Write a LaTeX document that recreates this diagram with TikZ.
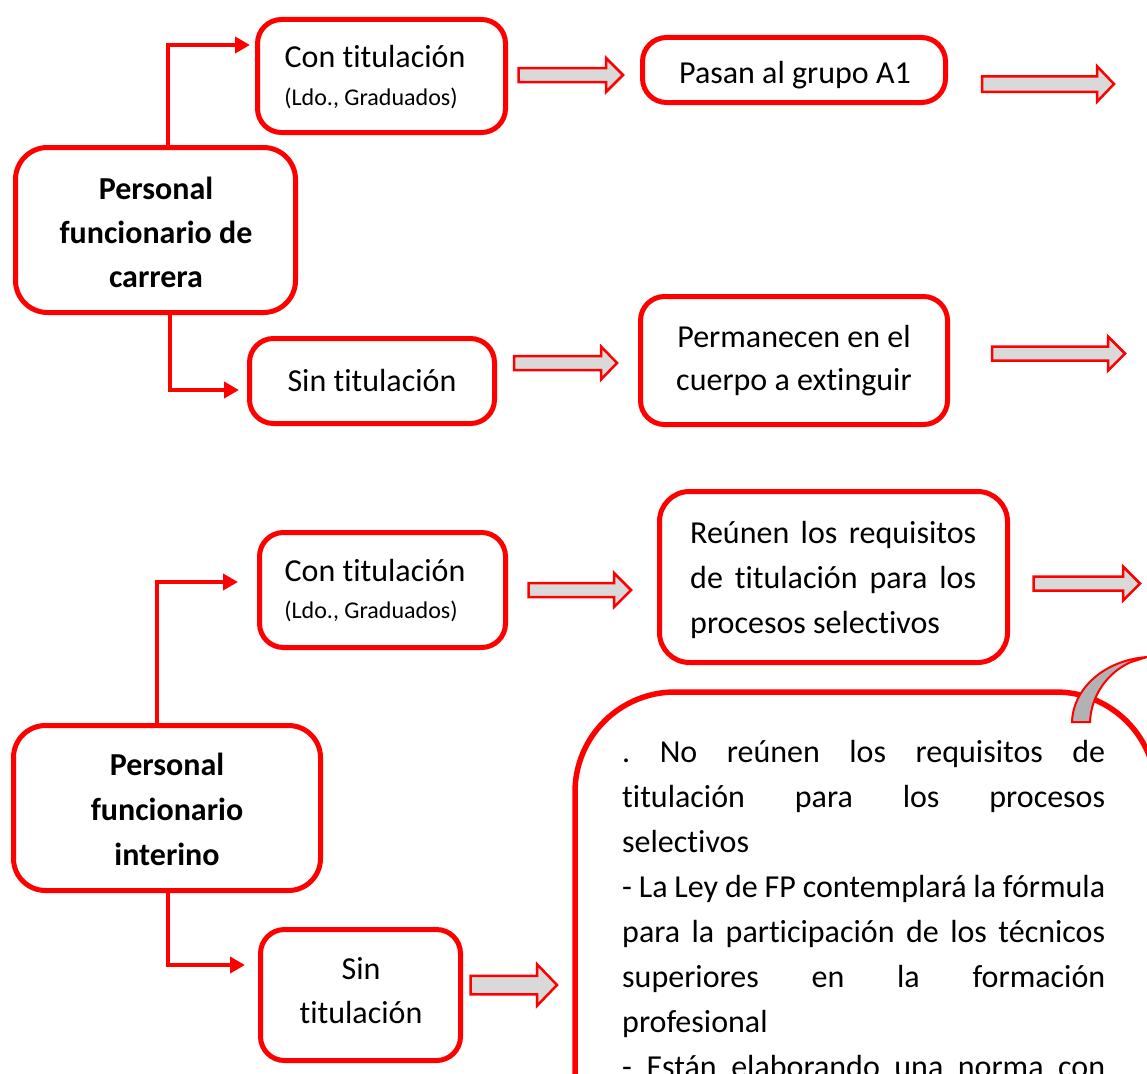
\documentclass[tikz,border=0pt]{standalone}
\usepackage{fontspec}
\setmainfont{Carlito}[Ligatures={NoCommon,NoRare,NoContextual}]
\usetikzlibrary{arrows.meta}
\definecolor{rojo}{RGB}{255,0,0}
\definecolor{grisflecha}{RGB}{217,217,217}
\definecolor{grisrizo}{RGB}{178,178,178}
% #1 x start, #2 x tip, #3 y centre, #4 shaft half height, #5 head half height, #6 head length
\newcommand\flechabloque[6]{%
  \draw[bloque] (#1,#3-#4) -- (#2-#6,#3-#4) -- (#2-#6,#3-#5) -- (#2,#3) -- (#2-#6,#3+#5) -- (#2-#6,#3+#4) -- (#1,#3+#4) -- cycle;}
\begin{document}
\begin{tikzpicture}[x=1pt,y=-1pt,
  caja/.style={draw=rojo, line width=5pt, fill=white, rounded corners=24pt, inner sep=0pt},
  txt/.style={inner sep=0pt, anchor=base, font=\fontsize{32}{44}\selectfont},
  txtp/.style={inner sep=0pt, anchor=base, font=\fontsize{24}{30}\selectfont},
  conector/.style={draw=rojo, line width=4pt, -{Triangle[length=15pt,width=16pt]}},
  bloque/.style={draw=rojo, line width=2.5pt, fill=grisflecha, line join=miter},
]
\useasboundingbox (0,0) rectangle (1147,1073);
\fill[white] (0,0) rectangle (1147,1073);
\clip (0,0) rectangle (1147,1073);

% boxes
\node[caja, minimum width=248pt, minimum height=113pt] (b1) at (381.5,76) {};
\node[caja, minimum width=303pt, minimum height=65pt] (b2) at (794,70) {};
\node[caja, rounded corners=32pt, minimum width=280pt, minimum height=165pt] (b3) at (155.5,230) {};
\node[caja, minimum width=245pt, minimum height=85pt] (b4) at (372,381) {};
\node[caja, minimum width=307pt, minimum height=128pt] (b5) at (794,360.5) {};
\node[caja, minimum width=246pt, minimum height=115pt] (b6) at (382.5,590) {};
\node[caja, rounded corners=30pt, minimum width=348pt, minimum height=171pt] (b7) at (833.5,577) {};
\node[caja, rounded corners=32pt, minimum width=307pt, minimum height=165pt] (b8) at (167,808) {};
\node[caja, minimum width=200pt, minimum height=131pt] (b9) at (360.5,995) {};
\node[caja, line width=5.5pt, rounded corners=100pt, minimum width=581pt, minimum height=600pt] (b10) at (865.5,992) {};

% texts
\node[txt] (t1) at (375,67) {Con titulación};
\node[txtp] (t1p) at (371,105) {(Ldo., Graduados)};
\node[txt] (t2) at (795,83) {Pasan al grupo A1};
\node[txt, anchor=north, align=center, font=\fontsize{32}{44}\selectfont\bfseries] (t3) at (156,169) {\rule{0pt}{30pt}Personal\\funcionario de\\carrera};
\node[txt] (t4) at (372,391) {Sin titulación};
\node[txt, anchor=north, align=center, font=\fontsize{32}{43}\selectfont] (t5) at (794,317) {\rule{0pt}{30pt}Permanecen en el\\cuerpo a extinguir};
\node[txt] (t6) at (375,581) {Con titulación};
\node[txtp] (t6p) at (371,618) {(Ldo., Graduados)};
\node[txt, anchor=north west, text width=286pt, align=justify, font=\fontsize{32}{45}\selectfont] (t7) at (690,513)
  {\parindent=0pt\hyphenpenalty=10000\exhyphenpenalty=10000\tolerance=10000\rule{0pt}{30pt}Reúnen los requisitos de titulación para los procesos selectivos};
\node[txt, anchor=north, align=center, font=\fontsize{32}{45}\selectfont\bfseries] (t8) at (167,745) {\rule{0pt}{30pt}Personal\\funcionario\\interino};
\node[txt, anchor=north, align=center, font=\fontsize{32}{44}\selectfont] (t9) at (361,949) {\rule{0pt}{30pt}Sin\\titulación};
\node[txt, anchor=north west, text width=483pt, align=justify, font=\fontsize{32}{45}\selectfont] (t10) at (622,732)
  {\parindent=0pt\parskip=0pt\frenchspacing\hyphenpenalty=10000\exhyphenpenalty=10000\tolerance=10000\rule{0pt}{30pt}.
   No reúnen los requisitos de\linebreak titulación para los procesos\linebreak selectivos\par
   - La Ley de FP contemplará la fórmula\linebreak para la participación de los técnicos\linebreak superiores en la formación\linebreak profesional\par
   {\parfillskip=0pt - Están elaborando una norma con\par}};

% connectors
\coordinate (k1) at (168,45);
\coordinate (k2) at (170,390);
\coordinate (k3) at (157,582);
\coordinate (k4) at (168,965);
\draw[conector, shorten >=5pt] (b3.north -| k1) -- (k1) -- (b1.west |- k1);
\draw[conector, shorten >=8pt] (b3.south -| k2) -- (k2) -- (b4.west |- k2);
\draw[conector, shorten >=19pt] (b8.north -| k3) -- (k3) -- (b6.west |- k3);
\draw[conector, shorten >=13pt] (b8.south -| k4) -- (k4) -- (b9.west |- k4);

% block arrows
\flechabloque{518.5}{623}{75}{7}{17}{17}
\flechabloque{982}{1114}{84}{7.75}{17.75}{17}
\flechabloque{514}{617}{363}{7}{16.5}{16}
\flechabloque{992}{1125}{353.5}{7}{17}{17}
\flechabloque{528.5}{631}{590}{7}{17}{17}
\flechabloque{1033.5}{1140}{583.5}{7}{17}{17}
\flechabloque{470.5}{557}{985}{9.25}{20.75}{20}

% curl
\draw[draw=rojo, line width=2pt, fill=grisrizo] (1072,722) .. controls (1073,688) and (1105,660) .. (1147,657) -- (1131,662) .. controls (1108,672) and (1091,695) .. (1090,722) -- cycle;
\end{tikzpicture}
\end{document}
